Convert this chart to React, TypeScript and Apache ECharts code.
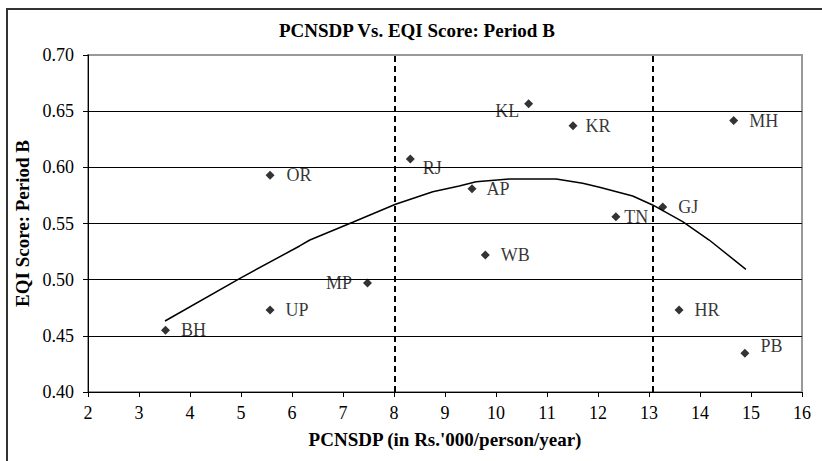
import React, { useEffect, useRef } from "react";
import * as echarts from "echarts";

// States and their readings
const states = ["BH", "UP", "OR", "MP", "RJ", "AP", "WB", "KL", "KR", "TN", "GJ", "HR", "MH", "PB"];
const pcnsdp = [3.52, 5.57, 5.57, 7.48, 8.32, 9.53, 9.79, 10.64, 11.51, 12.35, 13.27, 13.59, 14.66, 14.88];
const eqiScore = [0.455, 0.473, 0.593, 0.497, 0.6075, 0.581, 0.522, 0.6565, 0.637, 0.556, 0.5647, 0.473, 0.6416, 0.4345];

// Trend curve
const trendX = [3.51, 4.98, 6.15, 6.35, 7.19, 8.03, 8.76, 9.28, 9.61, 10.26, 11.18, 11.7, 12.03, 12.68, 13.07, 13.66, 14.18, 14.9];
const trendY = [0.4632, 0.5012, 0.53, 0.5353, 0.5511, 0.5671, 0.5783, 0.5834, 0.5872, 0.5896, 0.5896, 0.5858, 0.5822, 0.5745, 0.5665, 0.5516, 0.5353, 0.5092];

// Dashed threshold lines
const thresholds = [8.02, 13.07];

const yTicks = [0.4, 0.45, 0.5, 0.55, 0.6, 0.65, 0.7];

// label placement (style, not data)
const labelPlace: Record<string, any> = {
  BH: { position: "right", distance: 11 },
  UP: { position: "right", distance: 11 },
  OR: { position: "right", distance: 12 },
  MP: { position: "left", distance: 11 },
  RJ: { position: "right", distance: 8, offset: [0, 9] },
  AP: { position: "right", distance: 10 },
  WB: { position: "right", distance: 11 },
  KL: { position: "left", distance: 5, offset: [0, 7] },
  KR: { position: "right", distance: 8 },
  TN: { position: "right", distance: 4 },
  GJ: { position: "right", distance: 11 },
  HR: { position: "right", distance: 11 },
  MH: { position: "right", distance: 11 },
  PB: { position: "right", distance: 11, offset: [0, -7] },
};

const serif = "'Liberation Serif', 'Times New Roman', serif";

export default function App() {
  const ref = useRef<HTMLDivElement>(null);
  useEffect(() => {
    document.body.style.margin = "0";
    if (!ref.current) return;
    const chart = echarts.init(ref.current, null, { renderer: "svg" });
    const points = states.map((s, i) => ({
      name: s,
      value: [pcnsdp[i], eqiScore[i]],
      label: { show: true, formatter: s, ...labelPlace[s] },
    }));
    chart.setOption({
      animation: false,
      backgroundColor: "#fff",
      title: {
        text: "PCNSDP Vs. EQI Score: Period B",
        left: 274,
        top: 16,
        textStyle: { fontFamily: serif, fontWeight: "bold", fontSize: 19, color: "#000" },
      },
      graphic: [
        {
          type: "rect",
          shape: { x: 7, y: 9, width: 900, height: 600 },
          style: { fill: "none", stroke: "#333", lineWidth: 2 },
          z: -1,
          silent: true,
        },
      ],
      grid: {
        left: 88,
        right: 20,
        top: 55,
        bottom: 69,
        show: true,
        borderColor: "#999",
        borderWidth: 2,
        backgroundColor: "transparent",
      },
      xAxis: {
        type: "value",
        min: 2,
        max: 16,
        interval: 1,
        name: "PCNSDP (in Rs.'000/person/year)",
        nameLocation: "middle",
        nameGap: 38,
        nameTextStyle: { fontFamily: serif, fontWeight: "bold", fontSize: 19, color: "#000" },
        axisLine: { show: true, onZero: false, lineStyle: { color: "#000", width: 1 } },
        axisTick: { show: true, length: 5, lineStyle: { color: "#000" } },
        axisLabel: { fontFamily: serif, fontSize: 18, color: "#000", margin: 12 },
        splitLine: { show: false },
      },
      yAxis: {
        type: "value",
        min: 0.4,
        max: 0.7,
        interval: 0.05,
        name: "EQI Score: Period B",
        nameLocation: "middle",
        nameGap: 56,
        nameTextStyle: { fontFamily: serif, fontWeight: "bold", fontSize: 19, color: "#000" },
        axisLine: { show: true, onZero: false, lineStyle: { color: "#000", width: 1 } },
        axisTick: { show: true, length: 5, lineStyle: { color: "#000" } },
        axisLabel: {
          fontFamily: serif,
          fontSize: 18,
          color: "#000",
          margin: 14,
          formatter: (v: number) => {
            const t = yTicks.find((k) => Math.abs(k - v) < 1e-6);
            return (t ?? v).toFixed(2);
          },
        },
        splitLine: { show: true, showMinLine: false, showMaxLine: false, lineStyle: { color: "#000", width: 1 } },
      },
      series: [
        {
          type: "line",
          data: trendX.map((x, i) => [x, trendY[i]]),
          showSymbol: false,
          symbol: "none",
          lineStyle: { color: "#000", width: 1.5 },
          silent: true,
          z: 2,
          markLine: {
            silent: true,
            symbol: "none",
            label: { show: false },
            lineStyle: { color: "#000", width: 2, type: [6, 4] },
            data: thresholds.map((t) => ({ xAxis: t })),
          },
        },
        {
          type: "scatter",
          data: points,
          symbol: "diamond",
          symbolSize: 9,
          itemStyle: { color: "#000" },
          label: { fontFamily: serif, fontSize: 18, color: "#000" },
          z: 3,
        },
      ],
    });
    return () => chart.dispose();
  }, []);
  return <div ref={ref} style={{ width: 822, height: 461 }} />;
}
